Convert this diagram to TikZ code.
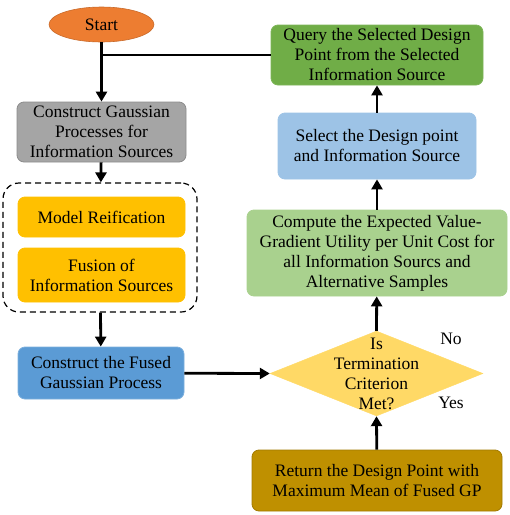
\documentclass[tikz,border=0pt]{standalone}
\usepackage{fontspec}
\setmainfont{Liberation Serif}
\usetikzlibrary{shapes.geometric,arrows.meta}
\definecolor{cstart}{HTML}{ED7D31}
\definecolor{cgray}{HTML}{A5A5A5}
\definecolor{cyel}{HTML}{FFC000}
\definecolor{cblue}{HTML}{5B9BD5}
\definecolor{cdia}{HTML}{FFD966}
\definecolor{cltgreen}{HTML}{A9D18E}
\definecolor{cltblue}{HTML}{9DC3E6}
\definecolor{cgreen}{HTML}{70AD47}
\definecolor{cgold}{HTML}{BF9000}
\begin{document}
\begin{tikzpicture}[x=1pt,y=-1pt,
  txt/.style={font=\fontsize{17.5}{20}\selectfont, align=center, text=black},
  box/.style={txt, rectangle, rounded corners=7pt, inner sep=0pt, line width=0.8pt},
  arr/.style={line width=2.8pt, -{Triangle[length=10pt,width=11pt]}},
  ln/.style={line width=2.6pt}]
\useasboundingbox (0,0) rectangle (510,515);
\node[ellipse, fill=cstart, draw=cstart!85!black, line width=0.6pt, minimum width=105pt, minimum height=35pt, inner sep=0pt, txt] (start) at (101.5,24.5) {Start};
\node[box, fill=cgray, draw=cgray!85!black, minimum width=169pt, minimum height=60pt] (gp) at (101.5,132) {Construct Gaussian\\Processes for\\Information Sources};
\node[draw=black, dashed, dash pattern=on 6pt off 4pt, line width=1.2pt, rounded corners=16pt, minimum width=194pt, minimum height=129pt, inner sep=0pt] (group) at (100,247.5) {};
\node[box, fill=cyel, draw=cyel, minimum width=167pt, minimum height=40pt] (model) at (101.5,217) {Model Reification};
\node[box, fill=cyel, draw=cyel, minimum width=167pt, minimum height=54pt] (fusion) at (101.5,275) {Fusion of\\Information Sources};
\node[box, fill=cblue, draw=cblue!80!white, minimum width=166pt, minimum height=52pt] (fused) at (101,373) {Construct the Fused\\Gaussian Process};
\node[diamond, aspect=2.5, fill=cdia, draw=cdia, minimum width=213pt, minimum height=85pt, inner sep=0pt] (dia) at (376.5,373.5) {};
\node[txt] (diatxt) at (376.5,373.5) {Is\\Termination\\Criterion\\Met?};
\node[box, fill=cltgreen, draw=cltgreen, minimum width=260pt, minimum height=86pt] (comp) at (377,253) {Compute the Expected Value-\\Gradient Utility per Unit Cost for\\all Information Sourcs and\\Alternative Samples};
\node[box, fill=cltblue, draw=cltblue, minimum width=198pt, minimum height=66pt] (sel) at (377,146) {Select the Design point\\and Information Source};
\node[box, fill=cgreen, draw=cgreen!90!white, minimum width=212pt, minimum height=60pt] (query) at (377,55) {Query the Selected Design\\Point from the Selected\\Information Source};
\node[box, fill=cgold, draw=cgold!85!black, minimum width=250pt, minimum height=61pt] (ret) at (377,480.5) {Return the Design Point with\\Maximum Mean of Fused GP};
\node[txt] (no) at (451,339) {No};
\node[txt] (yes) at (451,403) {Yes};
\coordinate (junc) at (101.5,55);
\draw[arr] (start) -- (gp);
\draw[line width=2pt] (query.west) -- (junc);
\draw[arr] (gp) -- (group);
\draw[arr] (group) -- (fused);
\draw[arr] (fused) -- (dia.west);
\draw[arr] (dia.north) -- (comp);
\draw[arr] (comp) -- (sel);
\draw[arr] (sel) -- (query);
\draw[arr] (ret) -- (dia.south);
\end{tikzpicture}
\end{document}
